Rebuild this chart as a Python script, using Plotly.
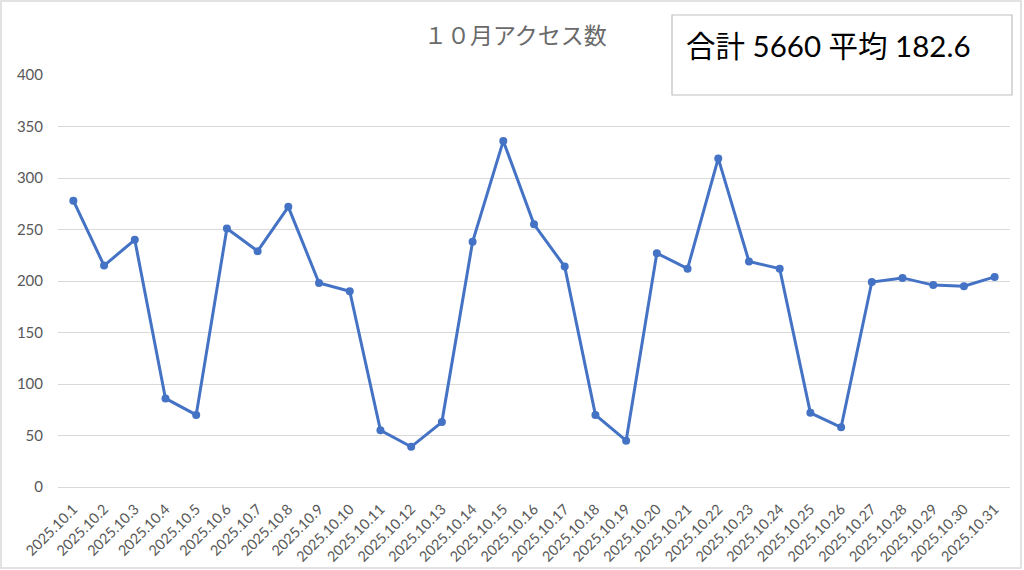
import plotly.graph_objects as go

dates = [f"2025.10.{d}" for d in range(1, 32)]
access = [278, 215, 240, 86, 70, 251, 229, 272, 198, 190, 55, 39, 63, 238, 336,
          255, 214, 70, 45, 227, 212, 319, 219, 212, 72, 58, 199, 203, 196, 195, 204]
title_text = "１０月アクセス数"
total = sum(access)
avg = total / len(access)
summary_text = f"合計 {total} 平均 {avg:.1f}"

L, R, T, B = 58, 1010, 75, 487
W, H = R - L, B - T

def px(x):
    return (x - L) / W

def py(y):
    return (B - y) / H

fig = go.Figure()
fig.add_trace(go.Scatter(
    x=list(range(len(dates))), y=access, mode="lines+markers",
    line=dict(color="#4472C4", width=3),
    marker=dict(color="#4472C4", size=8),
    hoverinfo="y",
))

fig.update_layout(
    width=1024, height=570,
    margin=dict(l=L, r=1024 - R, t=T, b=570 - B, autoexpand=False),
    paper_bgcolor="white", plot_bgcolor="white",
    showlegend=False,
    font=dict(family="Lato, 'Noto Sans CJK JP', sans-serif", color="#595959", size=14),
    xaxis=dict(
        tickmode="array", tickvals=list(range(len(dates))), ticktext=dates,
        tickangle=-45, range=[-0.5, len(dates) - 0.5],
        showgrid=False, zeroline=False, showline=False,
        tickfont=dict(size=14.5, color="#595959"),
        ticks="", fixedrange=True, automargin=False, ticklabelstandoff=10,
    ),
    yaxis=dict(
        range=[0, 400], tickvals=[0, 50, 100, 150, 200, 250, 300, 350, 400],
        showgrid=True, gridcolor="#d9d9d9", gridwidth=1,
        zeroline=True, zerolinecolor="#d9d9d9", zerolinewidth=1,
        showline=False, ticks="", ticklabelstandoff=14,
        tickfont=dict(size=15, color="#595959"), automargin=False,
    ),
    shapes=[
        dict(type="rect", xref="paper", yref="paper",
             x0=px(1), x1=px(1021), y0=py(568), y1=py(1),
             line=dict(color="#d9d9d9", width=1.5), layer="below"),
        dict(type="rect", xref="paper", yref="paper",
             x0=px(672), x1=px(1012), y0=py(95), y1=py(15),
             line=dict(color="#bfbfbf", width=1.2), fillcolor="white"),
    ],
    annotations=[
        dict(text=title_text, xref="paper", yref="paper", x=px(515), y=py(34),
             xanchor="center", yanchor="middle", showarrow=False,
             font=dict(family="'Noto Sans CJK JP'", size=23, color="#6a6a6a")),
        dict(text=summary_text, xref="paper", yref="paper", x=px(684), y=py(46),
             xanchor="left", yanchor="middle", showarrow=False,
             font=dict(family="Lato, 'Noto Sans CJK JP'", size=29.5, color="#000000")),
    ],
)

fig.write_html("out.html", config={"displayModeBar": False},
               post_script="document.body.style.margin='0';document.body.style.padding='0';")
